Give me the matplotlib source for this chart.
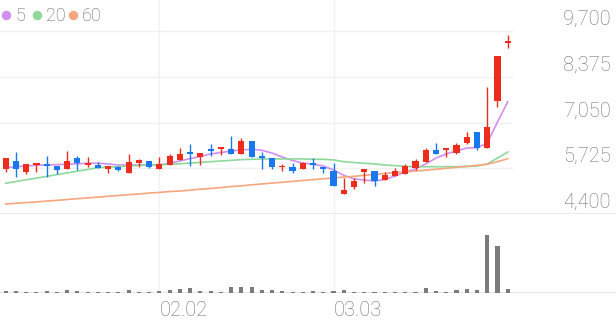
import matplotlib
matplotlib.use("Agg")
import matplotlib.pyplot as plt
from matplotlib.lines import Line2D
from matplotlib import transforms

# OHLC per Handelstag (50 Tage)
opens = [5695, 5945, 5625, 5830, 5850, 5790, 5695, 6015, 5830, 5830,
         5695, 5760, 5580, 5885, 5945, 5710, 5810, 5965, 6205, 6060,
         6285, 6290, 6285, 6130, 6525, 6080, 6015, 5760, 5770, 5710,
         5885, 5770, 5655, 4970, 5175, 5615, 5635, 5385, 5500, 5560,
         5725, 5905, 6245, 6255, 6160, 6450, 6785, 6305, 7675, 9360]
highs = [6015, 6185, 5840, 5885, 6080, 5790, 6225, 6080, 6060, 5915,
         5800, 5790, 6130, 5995, 5945, 6040, 6140, 6305, 6420, 6175,
         6420, 6310, 6660, 6590, 6525, 6205, 6015, 5840, 5870, 5915,
         6015, 5770, 5870, 5435, 5435, 5695, 5635, 5625, 5725, 5840,
         5985, 6305, 6450, 6305, 6465, 6765, 6785, 8085, 8985, 9585]
lows = [5625, 5465, 5560, 5625, 5465, 5560, 5695, 5675, 5770, 5725,
        5580, 5645, 5580, 5770, 5730, 5710, 5810, 5965, 5790, 5820,
        6090, 6100, 6130, 6130, 6060, 5695, 5695, 5645, 5595, 5710,
        5705, 5595, 5210, 4970, 5115, 5305, 5210, 5385, 5500, 5560,
        5675, 5905, 6130, 6060, 6130, 6420, 6255, 6305, 7510, 9200]
closes = [6015, 5695, 5840, 5885, 5790, 5675, 5945, 5870, 5850, 5725,
          5800, 5685, 5895, 5955, 5770, 5840, 6080, 6140, 6140, 6175,
          6225, 6310, 6130, 6525, 6060, 6015, 5770, 5800, 5655, 5885,
          5830, 5705, 5210, 5095, 5345, 5695, 5355, 5520, 5645, 5800,
          5945, 6255, 6130, 6305, 6400, 6620, 6305, 6910, 8985, 9420]

# Volumen (Tsd. Stueck)
volume = [170, 170, 100, 130, 170, 100, 330, 170, 130, 130,
          100, 100, 270, 100, 100, 200, 270, 430, 500, 200,
          200, 130, 600, 600, 570, 300, 270, 170, 100, 100,
          170, 70, 170, 330, 70, 70, 100, 130, 70, 70,
          130, 500, 200, 100, 270, 430, 270, 5770, 4700, 400]

# Gleitende Durchschnitte
ma5 = [5740, 5770, 5790, 5810, 5820, 5830, 5840, 5855, 5870, 5870,
       5850, 5820, 5820, 5820, 5820, 5820, 5870, 5935, 6005, 6065,
       6140, 6180, 6225, 6255, 6275, 6245, 6165, 6050, 5950, 5875,
       5840, 5790, 5675, 5520, 5415, 5385, 5355, 5400, 5500, 5615,
       5705, 5850, 6020, 6140, 6225, 6310, 6320, 6455, 7065, 7650]
ma20 = [5290, 5340, 5390, 5440, 5490, 5540, 5590, 5640, 5690, 5740,
        5760, 5775, 5790, 5805, 5820, 5830, 5840, 5855, 5875, 5895,
        5915, 5935, 5955, 5975, 5985, 5995, 5995, 5995, 5995, 5995,
        5985, 5985, 5965, 5915, 5890, 5870, 5850, 5820, 5800, 5780,
        5770, 5770, 5770, 5770, 5770, 5775, 5790, 5850, 6020, 6195]
ma60 = [4690, 4710, 4730, 4750, 4775, 4795, 4820, 4845, 4865, 4890,
        4915, 4935, 4960, 4980, 5005, 5025, 5050, 5065, 5090, 5120,
        5140, 5165, 5195, 5215, 5245, 5270, 5295, 5320, 5345, 5370,
        5395, 5420, 5445, 5470, 5490, 5520, 5545, 5575, 5600, 5620,
        5645, 5670, 5695, 5725, 5750, 5780, 5810, 5840, 5915, 6000]

price_ticks = [4400, 5725, 7050, 8375, 9700]
date_ticks = [15, 32]
date_labels = ["02.02", "03.03"]
ma_labels = ["5", "20", "60"]

RED = "#ec2c1c"
BLUE = "#1a78ee"
MA_COLORS = ["#d28ef0", "#8fd89c", "#f7a67e"]
TXT = "#727272"
GRID = "#f1f1f1"

W, H = 616, 321
fig = plt.figure(figsize=(W / 100, H / 100), dpi=100)
plt.rcParams['font.family'] = ['Roboto', 'DejaVu Sans']

x_left = -5.7 / 10.245
x_right = (W - 5.7) / 10.245
grid_end = 512 / W

####### Kurs-Panel ########
ax = fig.add_axes([0, 1 - 214 / H, 1, 214 / H])
ax.set_xlim(x_left, x_right)
ax.set_ylim(4400, 4400 + 214 * 1325 / 45.75)
ax.axis("off")

for v in price_ticks[1:]:
    ax.axhline(v, xmin=0, xmax=grid_end, color=GRID, lw=1, zorder=0)
ax.axhline(price_ticks[0], color="#e4e4e4", lw=1.2, zorder=0)
for d in date_ticks:
    ax.axvline(d, color=GRID, lw=1, zorder=0)

idx = list(range(len(closes)))
for i, c in enumerate(MA_COLORS):
    ax.plot(idx, [ma5, ma20, ma60][i], color=c, lw=1.2, zorder=2)

for i in idx:
    o, h, l, c = opens[i], highs[i], lows[i], closes[i]
    col = RED if c >= o else BLUE
    ax.vlines(i, l, h, color=col, lw=1.0, zorder=3)
    body = max(abs(c - o), 40)
    ax.bar(i, body, bottom=min(o, c), width=0.6, color=col, zorder=4, linewidth=0)

# Preisbeschriftung rechts, jeweils ueber der Linie
lab_trans = transforms.blended_transform_factory(ax.transAxes, ax.transData)
lab_trans = transforms.offset_copy(lab_trans, fig=fig, y=6, units="dots")
for v in price_ticks:
    ax.text(611 / W, v, f"{v:,}", transform=lab_trans, ha="right", va="baseline",
            fontsize=14.4, color=TXT, fontweight="light")

####### Volumen-Panel ########
axv = fig.add_axes([0, 1 - 293 / H, 1, 79 / H])
axv.set_xlim(x_left, x_right)
axv.set_ylim(0, 7900)
axv.axis("off")
axv.bar(idx, volume, width=0.4, color="#7b7b7b", linewidth=0, zorder=2)
axv.axhline(0, color="#e2e2e2", lw=1.2, zorder=1)
for d in date_ticks:
    axv.axvline(d, color=GRID, lw=1, zorder=0)

date_trans = transforms.blended_transform_factory(axv.transData, fig.transFigure)
for d, s in zip(date_ticks, date_labels):
    axv.text(d + 0.05, 1 - 316 / H, s, transform=date_trans, ha="left", va="baseline",
             fontsize=14.4, color=TXT, fontweight="light")

# Legende oben links
leg_dots = [6, 36.7, 73.3]
leg_text = [15, 46, 82]
for px, tx, c, s in zip(leg_dots, leg_text, MA_COLORS, ma_labels):
    fig.add_artist(Line2D([px / W], [1 - 15 / H], marker="o", ms=5.8, color=c,
                          transform=fig.transFigure, linestyle="none"))
    fig.text(tx / W, 1 - 21 / H, s, ha="left", va="baseline", fontsize=13,
             color="#666666", fontweight="light")

fig.savefig("out.png", dpi=100)
